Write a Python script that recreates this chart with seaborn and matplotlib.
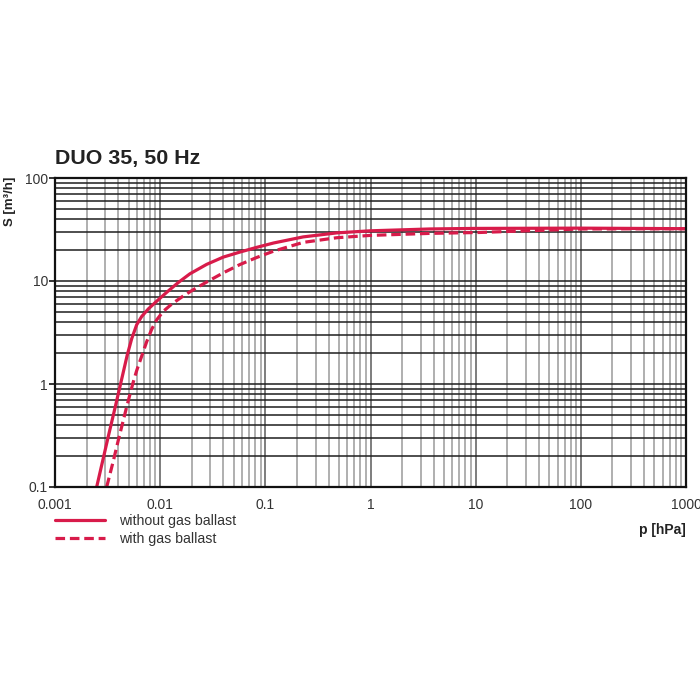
import pandas as pd
import seaborn as sns
import matplotlib.pyplot as plt

# Pumping speed curves
p_without = [0.00249, 0.00321, 0.00372, 0.00431, 0.00486, 0.00536, 0.00598, 0.00667,
             0.00771, 0.00927, 0.01153, 0.01486, 0.01919, 0.02767, 0.0398, 0.0574,
             0.0826, 0.120, 0.229, 0.476, 0.986, 3.67, 10, 100, 1000]
s_without = [0.1, 0.309, 0.585, 1.12, 1.905, 2.75, 3.76, 4.52,
             5.35, 6.37, 7.76, 9.66, 11.75, 14.5, 17.06, 19.1,
             21.2, 23.4, 26.8, 29.3, 30.7, 32.0, 32.4, 32.6, 32.2]

p_with = [0.0031, 0.00358, 0.0040, 0.00481, 0.00548, 0.00598, 0.00667, 0.00744,
          0.0083, 0.00927, 0.0107, 0.01285, 0.0166, 0.0206, 0.02767, 0.0398,
          0.0574, 0.0826, 0.120, 0.229, 0.476, 0.986, 3.67, 11, 33, 100, 1000]
s_with = [0.1, 0.178, 0.285, 0.603, 1.0, 1.35, 1.86, 2.57,
          3.39, 4.2, 5.07, 5.96, 7.16, 8.22, 9.77, 12.0,
          14.45, 16.9, 19.5, 23.7, 26.3, 27.7, 29.0, 29.6, 30.8, 32.0, 32.2]

labels = ['without gas ballast', 'with gas ballast']
x_ticks = [0.001, 0.01, 0.1, 1, 10, 100, 1000]
x_tick_labels = ['0.001', '0.01', '0.1', '1', '10', '100', '1000']
y_ticks = [0.1, 1, 10, 100]
y_tick_labels = ['0.1', '1', '10', '100']

df = pd.concat([
    pd.DataFrame({'p': p_without, 'S': s_without, 'mode': labels[0]}),
    pd.DataFrame({'p': p_with, 'S': s_with, 'mode': labels[1]}),
])

sns.set_style('white')
plt.rcParams['font.family'] = ['Liberation Sans', 'DejaVu Sans']

red = '#d81b4a'
fig = plt.figure(figsize=(7, 7), dpi=100)
ax = fig.add_axes([55 / 700, 1 - 487 / 700, 631 / 700, 309 / 700])

sns.lineplot(data=df, x='p', y='S', hue='mode', style='mode',
             palette={labels[0]: red, labels[1]: red},
             dashes={labels[0]: '', labels[1]: (3, 1.5)},
             linewidth=2.3, ax=ax, estimator=None, sort=True)

ax.set(xscale='log', yscale='log', xlim=(0.001, 1000), ylim=(0.1, 100))
ax.set_xticks(x_ticks, x_tick_labels)
ax.set_yticks(y_ticks, y_tick_labels)
ax.set_xlabel('')
ax.set_ylabel('')

# grid: dark horizontal lines, grey vertical lines
ax.set_axisbelow(True)
ax.grid(which='both', axis='y', color='#1e1e1e', linewidth=1.1)
ax.grid(which='major', axis='x', color='#5a5a5a', linewidth=1.1)
ax.grid(which='minor', axis='x', color='#9a9a9a', linewidth=1.1)
for s in ax.spines.values():
    s.set_color('#111111')
    s.set_linewidth(1.6)
    s.set_visible(True)

ax.tick_params(axis='x', which='both', length=0, pad=8, labelsize=10, labelcolor='#333333')
ax.tick_params(axis='y', which='major', length=4, width=1.2, color='#111111',
               pad=1, labelsize=10, labelcolor='#333333', left=True)
ax.tick_params(axis='y', which='minor', length=0)

ax.get_legend().remove()
handles, hl = ax.get_legend_handles_labels()
fig.legend(handles[:2], labels, loc='upper left',
           bbox_to_anchor=(55 / 700, 1 - 514 / 700), frameon=False,
           fontsize=10.2, handlelength=3.5, handletextpad=1.05, labelspacing=0.3,
           borderpad=0, borderaxespad=0, labelcolor='#333333')

fig.text(55 / 700, 1 - 164 / 700, 'DUO 35, 50 Hz', fontsize=15.4, fontweight='bold',
         color='#222222', va='baseline')
fig.text(10 / 700, 1 - 177 / 700, 'S [m³/h]', rotation=90, fontsize=9.5,
         fontweight='bold', color='#222222', ha='center', va='top')
fig.text(686 / 700, 1 - 530 / 700, 'p [hPa]', fontsize=10, fontweight='bold',
         color='#222222', ha='right', va='center')

fig.savefig('out.png', dpi=100)
